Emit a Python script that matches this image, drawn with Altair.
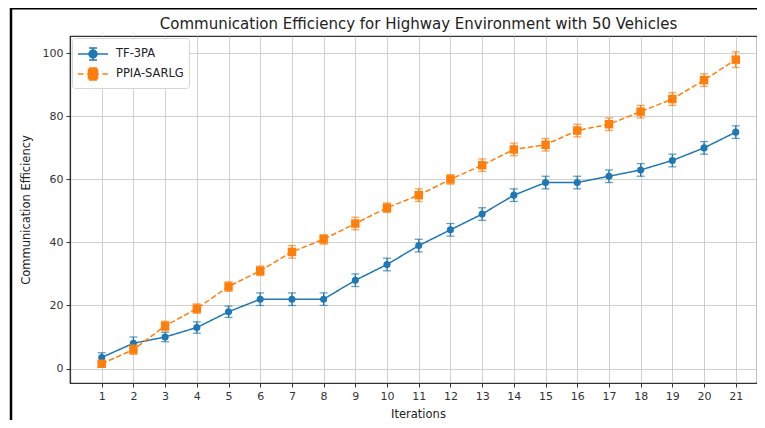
import altair as alt
import pandas as pd

iterations = list(range(1, 22))
series_names = ["TF-3PA", "PPIA-SARLG"]
series_colors = ["#1f77b4", "#ff7f0e"]
tf_values = [3.5, 8, 10, 13, 18, 22, 22, 22, 28, 33, 39, 44, 49, 55, 59, 59, 61, 63, 66, 70, 75]
tf_errors = [1.5, 2, 1.5, 1.8, 1.8, 2, 2, 2, 2, 2, 2, 2, 2, 2, 2, 2, 2, 2, 2, 2, 2]
ppia_values = [1.5, 6, 13.5, 19, 26, 31, 37, 41, 46, 51, 55, 60, 64.5, 69.5, 71, 75.5, 77.5, 81.5, 85.5, 91.5, 98]
ppia_errors = [1, 1.5, 1.5, 1.5, 1.5, 1.5, 2, 1.5, 2, 1.5, 2, 1.5, 2, 2, 2, 2, 2, 2, 2, 2, 2.5]
y_ticks = [0, 20, 40, 60, 80, 100]

rows = []
for name, vals, errs in [(series_names[0], tf_values, tf_errors), (series_names[1], ppia_values, ppia_errors)]:
    for it, v, e in zip(iterations, vals, errs):
        rows.append({"series": name, "iteration": it, "value": v, "lo": v - e, "hi": v + e})
df = pd.DataFrame(rows)

FONT = "DejaVu Sans"
xscale = alt.Scale(domain=[0, 21.67], nice=False, zero=False)
yscale = alt.Scale(domain=[-4.6, 105.5], nice=False, zero=False)
xaxis = alt.Axis(values=iterations, title="Iterations", titleX=348, titleY=34,
                 titleBaseline="alphabetic", titleAnchor="start", titleAlign="center")
yaxis = alt.Axis(values=y_ticks, title="Communication Efficiency", titleX=-41,
                 titleY=173.5, titleBaseline="alphabetic", titleAlign="center")


def X():
    return alt.X("iteration:Q", scale=xscale, axis=xaxis)


def Y(field):
    return alt.Y(field, type="quantitative", scale=yscale, axis=yaxis)


layers = []
for name, color in zip(series_names, series_colors):
    base = alt.Chart(df).transform_filter(alt.datum.series == name)
    dash = [1, 0] if name == "TF-3PA" else [5.5, 2.5]
    shape = "circle" if name == "TF-3PA" else "square"
    size = 50 if name == "TF-3PA" else 72
    line = base.mark_line(color=color, strokeWidth=1.5, strokeDash=dash).encode(x=X(), y=Y("value"))
    bars = base.mark_rule(color=color, strokeWidth=1.3).encode(x=X(), y=Y("lo"), y2="hi")
    cap_lo = base.mark_tick(color=color, orient="horizontal", size=8, thickness=1.3).encode(x=X(), y=Y("lo"))
    cap_hi = base.mark_tick(color=color, orient="horizontal", size=8, thickness=1.3).encode(x=X(), y=Y("hi"))
    pts = base.mark_point(color=color, filled=True, opacity=1, shape=shape, size=size).encode(x=X(), y=Y("value"))
    layers += [line, bars, cap_lo, cap_hi, pts]

# legend-only layer (no rows drawn); symbol unit = 10px
path_tf = ("M-1.5,0H1.5M0,-0.6V0.6M-0.4,-0.6H0.4M-0.4,0.6H0.4"
           "M-0.4,0A0.4,0.4 0 1,0 0.4,0A0.4,0.4 0 1,0 -0.4,0Z")
path_ppia = ("M-1.5,0H-0.95M-0.6,0H0.6M0.95,0H1.5M0,-0.6V0.6M-0.4,-0.6H0.4M-0.4,0.6H0.4"
             "M-0.45,-0.45H0.45V0.45H-0.45Z")
legend_def = alt.Legend(orient="none", legendX=2, legendY=2, labelFontSize=11.5, labelFont=FONT,
                        labelColor="#222", symbolSize=400, symbolStrokeWidth=1.5, rowPadding=-2,
                        padding=5, symbolOffset=5, strokeColor="#d5d5d5", fillColor="white",
                        cornerRadius=3, labelOffset=12, symbolOpacity=1)
legend_layer = alt.Chart(df).transform_filter(alt.datum.iteration > 1000).mark_point(filled=True, opacity=1).encode(
    x=X(), y=Y("value"),
    fill=alt.Fill("series:N", title=None, scale=alt.Scale(domain=series_names, range=series_colors), legend=legend_def),
    stroke=alt.Stroke("series:N", title=None, scale=alt.Scale(domain=series_names, range=series_colors), legend=legend_def),
    shape=alt.Shape("series:N", title=None, scale=alt.Scale(domain=series_names, range=[path_tf, path_ppia]), legend=legend_def),
)

frame_df = pd.DataFrame({"k": [0]})
frame_left = alt.Chart(frame_df).mark_rule(color="black", strokeWidth=2.5).encode(
    x=alt.value(-59), y=alt.value(-28), y2=alt.value(392))
frame_top = alt.Chart(frame_df).mark_rule(color="black", strokeWidth=1.5).encode(
    x=alt.value(-60), x2=alt.value(700), y=alt.value(-27.3))

chart = alt.layer(*layers, legend_layer, frame_left, frame_top).properties(
    width=687, height=347,
    autosize=alt.AutoSizeParams(type="none"),
    padding={"left": 62, "top": 28, "right": 0, "bottom": 37},
    title=alt.TitleParams("Communication Efficiency for Highway Environment with 50 Vehicles",
                          font=FONT, fontSize=15, fontWeight="normal", color="#222",
                          baseline="alphabetic", offset=-37, dx=5, anchor="middle"),
).configure_view(stroke="#333", strokeWidth=1.2).configure_axis(
    grid=True, gridColor="#c4c4c4", gridWidth=0.8, domainColor="#333", domainWidth=1.2,
    tickColor="#333", tickSize=4, labelFont=FONT, labelFontSize=11, labelColor="#333",
    labelPadding=3, titleFont=FONT, titleFontSize=11.5, titleFontWeight="normal", titleColor="#222",
)

chart.save("out.html", embed_options={"renderer": "svg", "actions": False})
